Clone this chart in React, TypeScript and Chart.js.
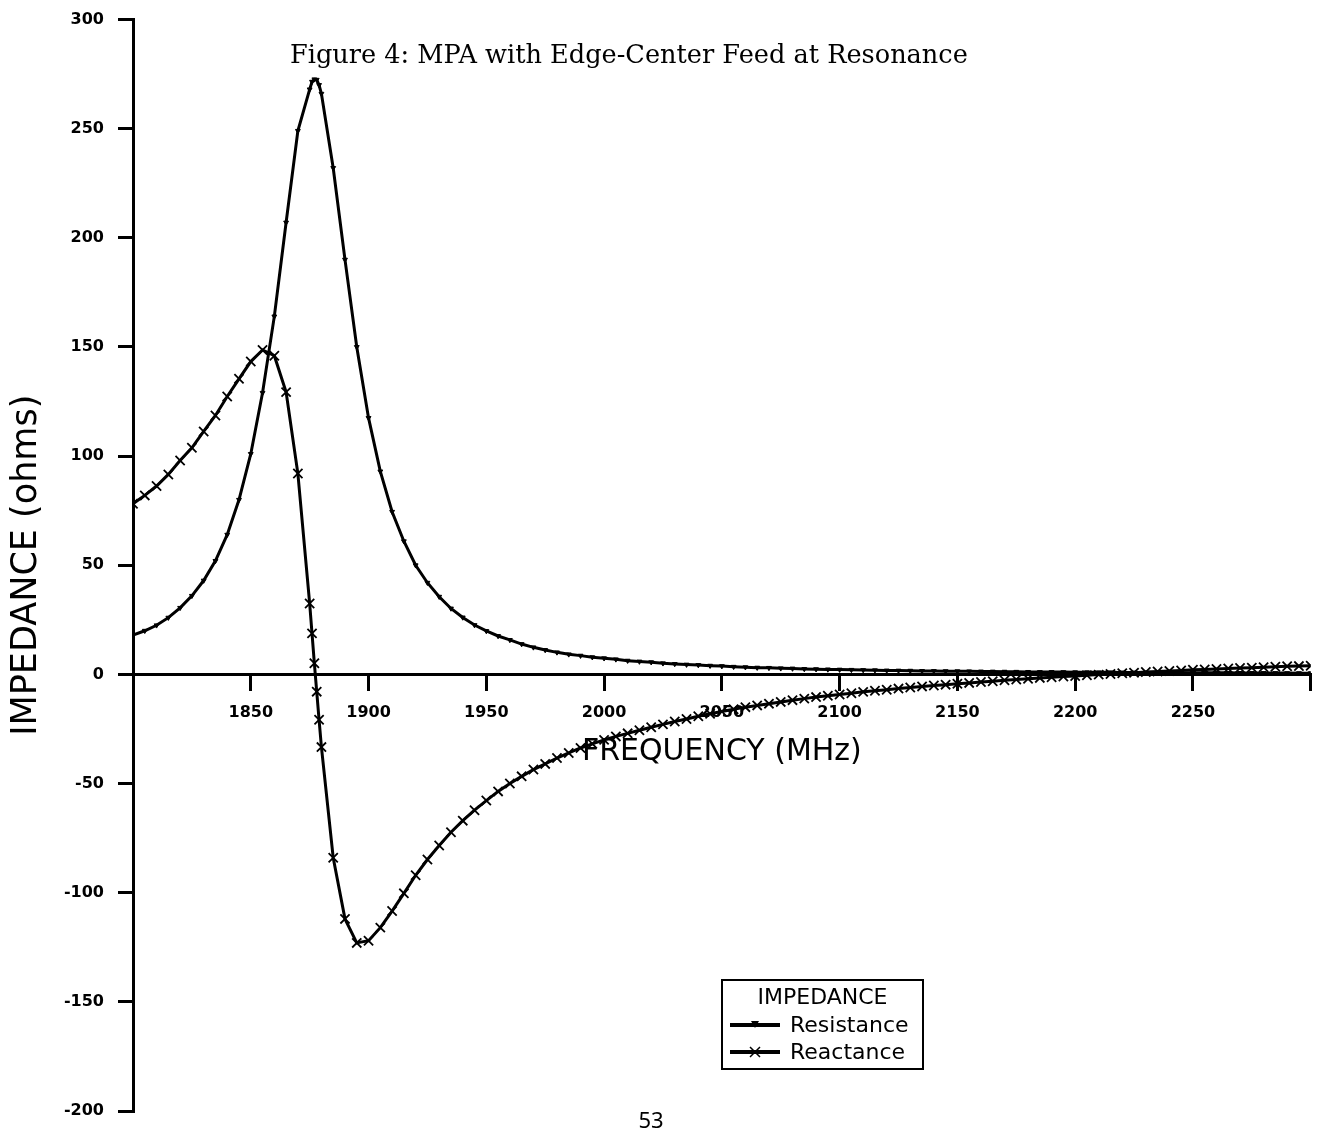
import React, { useEffect, useRef } from 'react';
import { Chart, registerables } from 'chart.js';

Chart.register(...registerables);

// Frequency samples (MHz) – 5 MHz steps with a 1 MHz refinement at resonance
const frequencies = [
  1800, 1805, 1810, 1815, 1820, 1825, 1830, 1835, 1840, 1845, 1850, 1855, 1860, 1865, 1870, 1875,
  1876, 1877, 1878, 1879,
  1880, 1885, 1890, 1895, 1900, 1905, 1910, 1915, 1920, 1925,
  1930, 1935, 1940, 1945, 1950, 1955, 1960, 1965, 1970, 1975,
  1980, 1985, 1990, 1995, 2000, 2005, 2010, 2015, 2020, 2025,
  2030, 2035, 2040, 2045, 2050, 2055, 2060, 2065, 2070, 2075,
  2080, 2085, 2090, 2095, 2100, 2105, 2110, 2115, 2120, 2125,
  2130, 2135, 2140, 2145, 2150, 2155, 2160, 2165, 2170, 2175,
  2180, 2185, 2190, 2195, 2200, 2205, 2210, 2215, 2220, 2225,
  2230, 2235, 2240, 2245, 2250, 2255, 2260, 2265, 2270, 2275,
  2280, 2285, 2290, 2295, 2300,
];

// Resistance (ohms)
const resistance = [
  18, 20, 22.5, 26, 30.5, 36, 43, 52, 64, 80, 101, 129, 164, 207, 249, 268,
  271.5, 272.6, 272.4, 270,
  266, 232, 190, 150, 117.5, 93, 74.5, 61, 50, 42,
  35.6, 30.2, 26.1, 22.6, 19.9, 17.6, 15.8, 13.9, 12.4, 11.2,
  10.1, 9.2, 8.6, 7.9, 7.4, 6.9, 6.3, 5.9, 5.6, 5.1,
  4.8, 4.5, 4.3, 4.0, 3.8, 3.5, 3.3, 3.1, 3.0, 2.8,
  2.7, 2.5, 2.4, 2.3, 2.2, 2.1, 2.0, 1.9, 1.8, 1.75,
  1.7, 1.6, 1.55, 1.5, 1.45, 1.4, 1.35, 1.3, 1.25, 1.2,
  1.15, 1.1, 1.1, 1.05, 1.0, 0.98, 0.95, 0.93, 0.9, 0.88,
  0.85, 0.83, 0.8, 0.78, 0.76, 0.74, 0.72, 0.7, 0.68, 0.66,
  0.64, 0.62, 0.6, 0.58, 0.56,
];

// Reactance (ohms)
const reactance = [
  78.2, 82, 86.3, 91.6, 98, 103.8, 111.3, 118.6, 127.3, 135.4, 143.3, 148.6, 146, 129.3, 92, 32.5,
  18.8, 5.1, -7.9, -20.8,
  -33.3, -84, -112, -123, -122, -116, -108.4, -100.3, -92, -84.8,
  -78.4, -72.3, -67, -62.2, -57.8, -53.6, -50, -46.7, -43.6, -41,
  -38.3, -36, -33.7, -31.8, -30, -28.4, -27, -25.6, -24.2, -22.9,
  -21.6, -20.4, -19.2, -18, -17, -16, -15, -14.2, -13.4, -12.6,
  -11.8, -11.1, -10.4, -9.8, -9.2, -8.6, -8, -7.5, -7, -6.5,
  -6, -5.5, -5.1, -4.7, -4.3, -3.9, -3.5, -3.1, -2.7, -2.3,
  -2, -1.6, -1.3, -1, -0.7, -0.4, -0.1, 0.2, 0.5, 0.8,
  1.1, 1.3, 1.6, 1.8, 2.1, 2.3, 2.5, 2.7, 2.9, 3.1,
  3.3, 3.5, 3.7, 3.8, 4.0,
];

const xLabeledTicks = [1850, 1900, 1950, 2000, 2050, 2100, 2150, 2200, 2250];
const seriesNames = ['Resistance', 'Reactance'];
const legendTitle = 'IMPEDANCE';
const xTitle = 'FREQUENCY (MHz)';
const yTitle = 'IMPEDANCE (ohms)';
const caption = 'Figure 4: MPA with Edge-Center Feed at Resonance';
const pageNumber = '53';

const SANS = '"DejaVu Sans", "Liberation Sans", Arial, sans-serif';

const boxLegend = {
  id: 'boxLegend',
  afterDraw(chart: any) {
    const ctx = chart.ctx as CanvasRenderingContext2D;
    const left = 722, top = 980, w = 201, h = 89;
    ctx.save();
    ctx.fillStyle = '#fff';
    ctx.fillRect(left, top, w, h);
    ctx.strokeStyle = '#000';
    ctx.lineWidth = 2;
    ctx.strokeRect(left, top, w, h);
    ctx.fillStyle = '#000';
    ctx.font = `22px ${SANS}`;
    ctx.textAlign = 'center';
    ctx.textBaseline = 'middle';
    ctx.fillText(legendTitle, left + w / 2, top + 18);
    chart.data.datasets.forEach((ds: any, i: number) => {
      const y = top + 45 + i * 27;
      ctx.strokeStyle = '#000';
      ctx.lineWidth = 4;
      ctx.beginPath();
      ctx.moveTo(left + 8, y);
      ctx.lineTo(left + 58, y);
      ctx.stroke();
      const cx = left + 33;
      if (ds.pointStyle === 'crossRot') {
        ctx.lineWidth = 1.5;
        ctx.beginPath();
        ctx.moveTo(cx - 5, y - 5); ctx.lineTo(cx + 5, y + 5);
        ctx.moveTo(cx + 5, y - 5); ctx.lineTo(cx - 5, y + 5);
        ctx.stroke();
      } else {
        ctx.beginPath();
        ctx.moveTo(cx - 4, y - 4); ctx.lineTo(cx + 4, y - 4); ctx.lineTo(cx, y + 3);
        ctx.closePath();
        ctx.fill();
      }
      ctx.textAlign = 'left';
      ctx.font = `22px ${SANS}`;
      ctx.fillText(ds.label, left + 68, y + 1);
    });
    ctx.restore();
  },
};

export default function App() {
  const ref = useRef<HTMLCanvasElement | null>(null);

  useEffect(() => {
    if (!ref.current) return;
    const chart = new Chart(ref.current, {
      type: 'line',
      data: {
        datasets: [
          {
            label: seriesNames[0],
            data: frequencies.map((f, i) => ({ x: f, y: resistance[i] })),
            borderColor: '#000',
            backgroundColor: '#000',
            borderWidth: 3,
            pointStyle: 'triangle',
            rotation: 180,
            pointRadius: 2.8,
            pointBorderWidth: 1,
            pointBackgroundColor: '#000',
            pointBorderColor: '#000',
            tension: 0,
            fill: false,
          },
          {
            label: seriesNames[1],
            data: frequencies.map((f, i) => ({ x: f, y: reactance[i] })),
            borderColor: '#000',
            backgroundColor: '#000',
            borderWidth: 3,
            pointStyle: 'crossRot',
            pointRadius: 6.5,
            pointBorderWidth: 1.8,
            pointBorderColor: '#000',
            tension: 0,
            fill: false,
          },
        ],
      },
      options: {
        responsive: false,
        animation: false,
        layout: { padding: { left: 0, top: 19.5, right: 5, bottom: 19 } },
        plugins: {
          legend: { display: false },
          tooltip: { enabled: false },
          title: { display: false },
        },
        scales: {
          x: {
            type: 'linear',
            min: 1800,
            max: 2300,
            position: { y: 0 } as any,
            afterFit: (s: any) => { s.height = 0; s.paddingLeft = 0; s.paddingRight = 0; },
            grid: { drawOnChartArea: false, drawTicks: true, tickLength: 15, color: '#000', lineWidth: 3 },
            border: { display: true, color: '#000', width: 3 },
            ticks: {
              stepSize: 50,
              autoSkip: false,
              maxRotation: 0,
              padding: 14,
              color: '#000',
              font: { family: SANS, size: 16, weight: 'bold' },
              callback: (v: any) => (xLabeledTicks.includes(Number(v)) ? String(v) : ''),
            },
            title: {
              display: true,
              text: xTitle,
              color: '#000',
              font: { family: SANS, size: 30 },
              padding: { top: 0, bottom: -95.5 },
            },
          },
          y: {
            type: 'linear',
            min: -200,
            max: 300,
            position: 'left',
            afterFit: (s: any) => { s.width = 133; s.paddingTop = 0; s.paddingBottom = 0; },
            grid: { drawOnChartArea: false, drawTicks: true, tickLength: 15, color: '#000', lineWidth: 3 },
            border: { display: true, color: '#000', width: 3 },
            ticks: {
              stepSize: 50,
              padding: 14,
              color: '#000',
              font: { family: SANS, size: 16, weight: 'bold' },
            },
            title: {
              display: true,
              text: yTitle,
              color: '#000',
              font: { family: SANS, size: 35 },
              padding: { top: 6, bottom: 0 },
            },
          },
        },
      },
      plugins: [boxLegend],
    });
    return () => chart.destroy();
  }, []);

  return (
    <div style={{ position: 'absolute', left: 0, top: 0, width: 1319, height: 1130, background: '#fff', overflow: 'hidden' }}>
      <canvas ref={ref} width={1319} height={1130} style={{ position: 'absolute', left: 0, top: 0, display: 'block' }} />
      <div
        style={{
          position: 'absolute', left: 290, top: 39, whiteSpace: 'nowrap',
          fontFamily: '"DejaVu Serif", "Liberation Serif", serif', fontSize: 25.6, color: '#000',
        }}
      >
        {caption}
      </div>
      <div
        style={{
          position: 'absolute', left: 0, width: 1302, top: 1104, textAlign: 'center',
          fontFamily: '"Noto Sans", "DejaVu Sans", sans-serif', fontSize: 22, color: '#000',
        }}
      >
        {pageNumber}
      </div>
    </div>
  );
}
